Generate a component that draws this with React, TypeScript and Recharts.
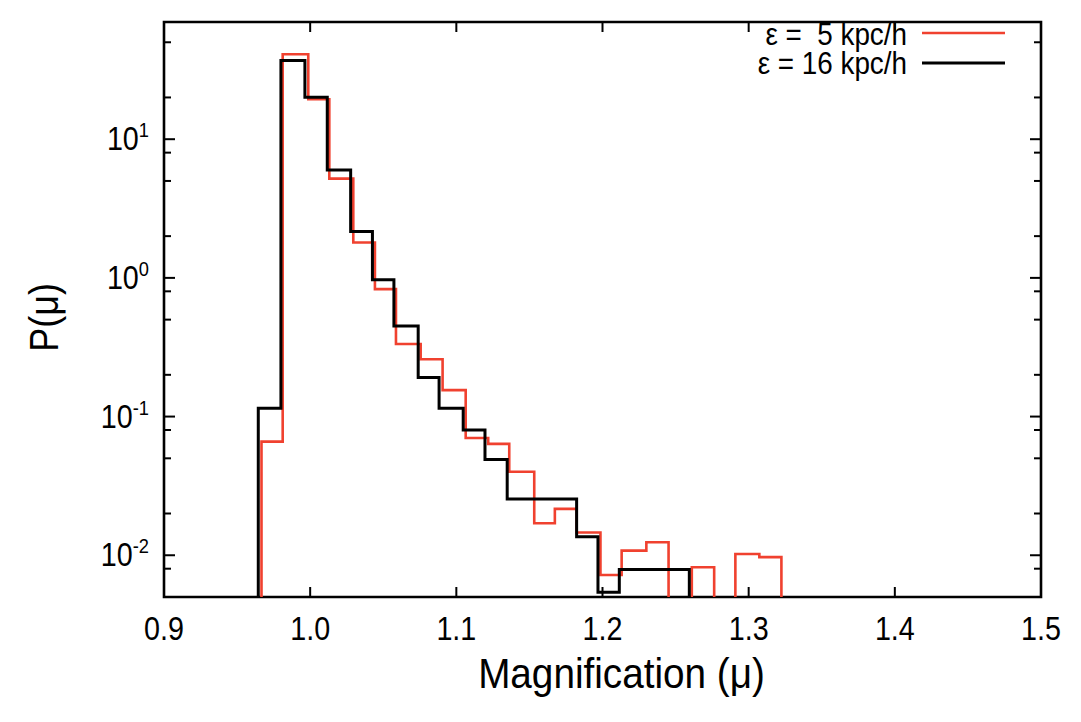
import { Line, LineChart, ReferenceArea, XAxis, YAxis } from "recharts";

// bin edges (mu) and P(mu) per bin; 0 = empty bin
const redEdges = [0.9667, 0.9812, 0.9987, 1.0131, 1.0295, 1.0443, 1.0587, 1.0756, 1.0906, 1.1064, 1.1218, 1.1362, 1.1533, 1.1674, 1.1823, 1.1986, 1.2131, 1.23, 1.2452, 1.2611, 1.2764, 1.2909, 1.3073, 1.3224];
const redValues = [0.066, 41, 19.4, 5.2, 1.8, 0.83, 0.334, 0.259, 0.155, 0.07, 0.0636, 0.04, 0.017, 0.0216, 0.0146, 0.0072, 0.0108, 0.0124, 0, 0.0082, 0, 0.0102, 0.0097];

const blackEdges = [0.9645, 0.98, 0.9964, 1.0117, 1.0277, 1.0426, 1.0573, 1.0739, 1.0882, 1.1047, 1.1196, 1.1348, 1.1823, 1.1969, 1.2115, 1.2594];
const blackValues = [0.115, 36.9, 20.1, 6.0, 2.16, 0.97, 0.45, 0.191, 0.115, 0.08, 0.049, 0.0254, 0.0136, 0.0054, 0.0079];

const xTicks = [0.9, 1.0, 1.1, 1.2, 1.3, 1.4, 1.5];
const yMajorTicks = [0.01, 0.1, 1, 10];
const yMinorTicks = [0.008, 0.02, 0.05, 0.08, 0.2, 0.5, 0.8, 2, 5, 8, 20, 50];
const yDomain = [0.005, 70];
const xDomain = [0.9, 1.5];

const legendLabels = ["\u03b5 =  5 kpc/h", "\u03b5 = 16 kpc/h"];
const RED = "#f0412f";
const BLACK = "#000";

const FLOOR = 1e-3; // empty bins fall below the axis and get clipped
const W = 1073;
const H = 714;
const PLOT_W = 877;
const PLOT_H = 575;
const FONT = "'Liberation Sans', Arial, Helvetica, sans-serif";
const TICK_FS = 33;
const SQUEEZE = 0.87; // the original lettering is a bit condensed

function steps(edges: number[], values: number[]) {
  const pts = [{ x: edges[0], y: FLOOR }];
  edges.forEach((e, i) => {
    const v = i < values.length ? values[i] : 0;
    pts.push({ x: e, y: v > 0 ? v : FLOOR });
  });
  return pts;
}

const redData = steps(redEdges, redValues);
const blackData = steps(blackEdges, blackValues);

function NText({ x, y, anchor = "middle", size = TICK_FS, sx = SQUEEZE, children, rotate = 0 }: any) {
  return (
    <text
      transform={`translate(${x},${y}) rotate(${rotate}) scale(${sx},1)`}
      x={0}
      y={0}
      textAnchor={anchor}
      fontSize={size}
      fontFamily={FONT}
      fill="#000"
      style={{ whiteSpace: "pre" }}
    >
      {children}
    </text>
  );
}

function XTick(props: any) {
  const { x, y, payload } = props;
  return (
    <g>
      <line x1={x} x2={x} y1={y} y2={y - 10} stroke="#000" strokeWidth={2} />
      <line x1={x} x2={x} y1={y - PLOT_H} y2={y - PLOT_H + 10} stroke="#000" strokeWidth={2} />
      <NText x={x} y={y + 43}>{Number(payload.value).toFixed(1)}</NText>
    </g>
  );
}

function YTick(props: any) {
  const { x, y, payload } = props;
  const v = payload.value as number;
  const major = yMajorTicks.some((t) => Math.abs(t - v) / t < 1e-6);
  const len = major ? 11 : 7;
  return (
    <g>
      <line x1={x} x2={x + len} y1={y} y2={y} stroke="#000" strokeWidth={2} />
      <line x1={x + PLOT_W} x2={x + PLOT_W - len} y1={y} y2={y} stroke="#000" strokeWidth={2} />
      {major && (
        <NText x={x - 15} y={y + 11} anchor="end">
          <tspan>10</tspan>
          <tspan dy={-13} fontSize={21}>{String(Math.round(Math.log10(v)))}</tspan>
        </NText>
      )}
    </g>
  );
}

function XLabel(props: any) {
  const vb = props.viewBox ?? { x: 156, y: 589, width: 877, height: 125 };
  return (
    <NText x={vb.x + vb.width / 2 + 19} y={vb.y + 91} size={43} sx={0.9}>
      Magnification (μ)
    </NText>
  );
}

function YLabel(props: any) {
  const vb = props.viewBox ?? { x: 0, y: 14, width: 156, height: 575 };
  return (
    <NText x={vb.x + 50} y={vb.y + vb.height / 2 + 8} size={40} sx={0.9} rotate={-90}>
      P(μ)
    </NText>
  );
}

export default function App() {
  return (
    <div style={{ position: "relative", width: W, height: H, fontFamily: FONT }}>
      <LineChart width={W} height={H} margin={{ top: 14, right: 40, bottom: 0, left: 0 }}>
        <XAxis
          dataKey="x"
          type="number"
          domain={xDomain}
          ticks={xTicks}
          interval={0}
          allowDataOverflow
          axisLine={false}
          tickLine={false}
          tickSize={0}
          tickMargin={0}
          height={125}
          tick={(p: any) => <XTick {...p} />}
          label={(p: any) => <XLabel {...p} />}
        />
        <YAxis
          type="number"
          scale="log"
          domain={yDomain}
          ticks={[...yMinorTicks, ...yMajorTicks].sort((a, b) => a - b)}
          interval={0}
          allowDataOverflow
          axisLine={false}
          tickLine={false}
          tickSize={0}
          tickMargin={0}
          width={156}
          tick={(p: any) => <YTick {...p} />}
          label={(p: any) => <YLabel {...p} />}
        />
        <Line data={redData} dataKey="y" type="stepAfter" stroke={RED} strokeWidth={2.6} dot={false} activeDot={false} isAnimationActive={false} />
        <Line data={blackData} dataKey="y" type="stepAfter" stroke={BLACK} strokeWidth={3} dot={false} activeDot={false} isAnimationActive={false} />
        <ReferenceArea x1={xDomain[0]} x2={xDomain[1]} y1={yDomain[0]} y2={yDomain[1]} fill="none" fillOpacity={0} stroke="#000" strokeWidth={2.6} />
      </LineChart>
      <svg width={W} height={H} style={{ position: "absolute", left: 0, top: 0, pointerEvents: "none" }}>
        {legendLabels.map((label, i) => (
          <g key={label}>
            <NText x={899} y={37 + i * 29} anchor="end" size={32}>
              {label}
            </NText>
            <line x1={914} x2={997} y1={25 + i * 30} y2={25 + i * 30} stroke={i === 0 ? RED : BLACK} strokeWidth={i === 0 ? 2.6 : 3} />
          </g>
        ))}
      </svg>
    </div>
  );
}
